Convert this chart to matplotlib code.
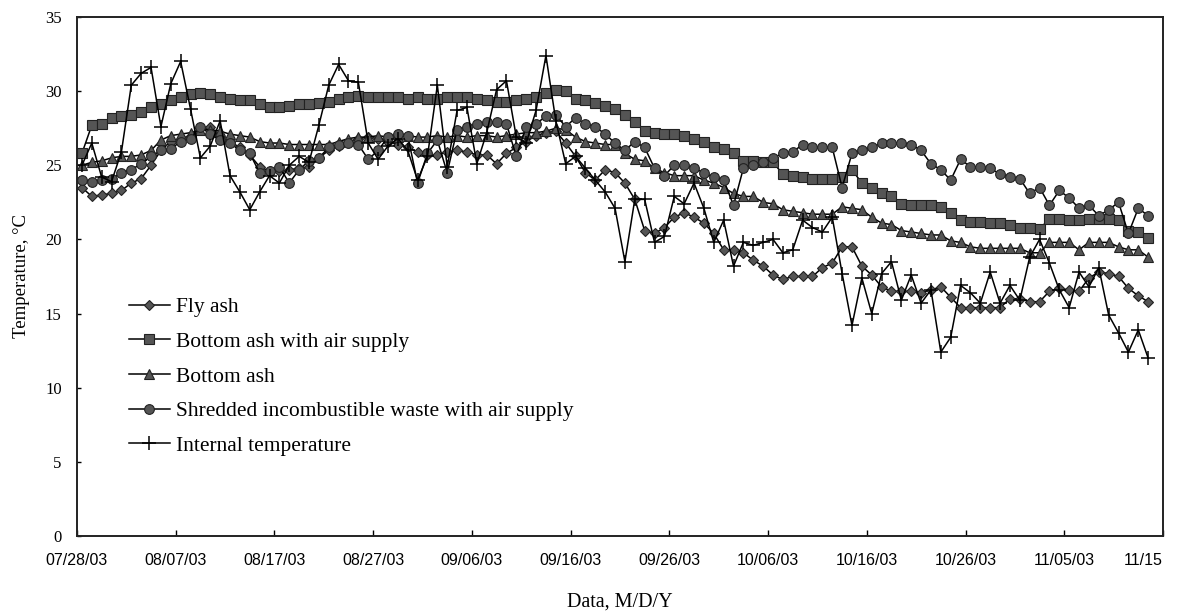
import matplotlib
matplotlib.use("Agg")
import matplotlib.pyplot as plt
import matplotlib.dates as mdates
from matplotlib.transforms import ScaledTranslation
import pandas as pd

# daily readings, one per day from 07/28/03 (taken around noon)
days = pd.date_range("2003-07-28 12:00", periods=109, freq="D")

fly_ash = [
    23.5, 22.9, 23.0, 23.1, 23.3, 23.8, 24.1, 25.0, 26.0, 26.6,
    26.8, 27.0, 27.5, 27.6, 26.9, 26.6, 26.2, 25.7, 24.9, 24.6,
    24.6, 24.7, 24.8, 24.9, 25.5, 26.0, 26.3, 26.6, 26.8, 26.9,
    26.8, 26.6, 26.4, 26.2, 25.9, 25.7, 25.7, 25.9, 26.0, 25.9,
    25.7, 25.7, 25.1, 25.8, 26.2, 26.6, 27.0, 27.2, 27.3, 26.5,
    25.6, 24.5, 24.0, 24.7, 24.5, 23.8, 22.7, 20.6, 20.4, 20.8,
    21.5, 21.8, 21.5, 21.1, 20.4, 19.3, 19.3, 19.1, 18.6, 18.2,
    17.6, 17.3, 17.5, 17.5, 17.5, 18.1, 18.4, 19.5, 19.5, 18.2,
    17.6, 16.8, 16.5, 16.5, 16.5, 16.4, 16.6, 16.8, 16.1, 15.4,
    15.4, 15.4, 15.4, 15.4, 16.0, 16.0, 15.8, 15.8, 16.5, 16.7,
    16.6, 16.5, 17.4, 17.8, 17.7, 17.5, 16.7, 16.2, 15.8,
]

bottom_ash_air = [
    25.8, 27.7, 27.8, 28.2, 28.3, 28.4, 28.6, 28.9, 29.1, 29.4,
    29.6, 29.8, 29.9, 29.8, 29.6, 29.5, 29.4, 29.4, 29.1, 28.9,
    28.9, 29.0, 29.1, 29.1, 29.2, 29.3, 29.5, 29.6, 29.7, 29.6,
    29.6, 29.6, 29.6, 29.5, 29.6, 29.5, 29.5, 29.6, 29.6, 29.6,
    29.5, 29.4, 29.3, 29.3, 29.4, 29.5, 29.6, 29.9, 30.1, 30.0,
    29.5, 29.4, 29.2, 29.0, 28.8, 28.4, 27.9, 27.3, 27.2, 27.1,
    27.1, 27.0, 26.8, 26.6, 26.2, 26.1, 25.8, 25.3, 25.3, 25.2,
    25.2, 24.4, 24.3, 24.2, 24.1, 24.1, 24.1, 24.2, 24.7, 23.8,
    23.5, 23.1, 22.9, 22.4, 22.3, 22.3, 22.3, 22.2, 21.8, 21.3,
    21.2, 21.2, 21.1, 21.1, 21.0, 20.8, 20.8, 20.7, 21.4, 21.4,
    21.3, 21.3, 21.4, 21.4, 21.4, 21.3, 20.6, 20.5, 20.1,
]

bottom_ash = [
    25.0, 25.2, 25.3, 25.5, 25.6, 25.6, 25.7, 26.0, 26.7, 27.0,
    27.1, 27.2, 27.4, 27.4, 27.3, 27.1, 27.0, 26.9, 26.6, 26.5,
    26.5, 26.4, 26.4, 26.4, 26.4, 26.4, 26.6, 26.8, 26.9, 26.9,
    27.0, 26.9, 26.9, 27.0, 26.9, 26.9, 27.0, 26.9, 27.0, 26.9,
    27.0, 27.0, 26.9, 27.0, 27.1, 27.2, 27.2, 27.3, 27.5, 27.4,
    26.9, 26.6, 26.5, 26.4, 26.4, 25.8, 25.4, 25.3, 24.8, 24.5,
    24.3, 24.3, 24.3, 24.0, 23.8, 23.5, 23.1, 22.9, 22.9, 22.5,
    22.4, 22.0, 21.9, 21.8, 21.7, 21.7, 21.7, 22.2, 22.1, 22.0,
    21.5, 21.1, 21.0, 20.6, 20.5, 20.4, 20.3, 20.3, 19.9, 19.8,
    19.5, 19.4, 19.4, 19.4, 19.4, 19.4, 19.1, 19.1, 19.8, 19.8,
    19.8, 19.3, 19.8, 19.8, 19.8, 19.5, 19.3, 19.3, 18.8,
]

shredded_air = [
    24.0, 23.9, 24.0, 24.1, 24.5, 24.7, 25.1, 25.6, 26.0, 26.1,
    26.6, 26.8, 27.6, 27.1, 26.7, 26.5, 26.0, 25.8, 24.5, 24.6,
    24.9, 23.8, 24.7, 25.3, 25.5, 26.2, 26.4, 26.5, 26.4, 25.4,
    26.0, 26.9, 27.1, 27.0, 23.8, 25.8, 26.7, 24.5, 27.4, 27.6,
    27.8, 27.9, 27.9, 27.8, 25.6, 27.6, 27.8, 28.3, 28.4, 27.6,
    28.2, 27.8, 27.6, 27.1, 26.5, 26.0, 26.6, 26.2, 24.8, 24.3,
    25.0, 25.0, 24.8, 24.5, 24.2, 24.0, 22.3, 24.8, 25.0, 25.2,
    25.5, 25.8, 25.9, 26.4, 26.2, 26.2, 26.2, 23.5, 25.8, 26.0,
    26.2, 26.5, 26.5, 26.5, 26.4, 26.0, 25.1, 24.7, 24.0, 25.4,
    24.9, 24.9, 24.8, 24.4, 24.2, 24.1, 23.1, 23.5, 22.3, 23.3,
    22.8, 22.1, 22.3, 21.6, 22.0, 22.5, 20.4, 22.1, 21.6,
]

internal = [
    25.0, 26.5, 24.2, 23.9, 25.9, 30.4, 31.2, 31.6, 27.6, 30.5,
    32.0, 28.8, 25.5, 26.3, 28.0, 24.3, 23.2, 22.0, 23.2, 24.3,
    23.8, 25.0, 25.6, 25.2, 27.7, 30.4, 31.8, 30.7, 30.6, 26.5,
    25.4, 26.3, 26.8, 26.0, 24.0, 25.6, 30.4, 24.9, 28.7, 28.9,
    25.1, 27.2, 30.1, 30.7, 26.9, 26.5, 28.7, 32.4, 28.0, 25.1,
    25.6, 24.8, 24.0, 23.2, 22.1, 18.5, 22.7, 22.7, 19.8, 20.2,
    22.9, 22.4, 23.8, 22.1, 19.8, 21.3, 18.2, 19.8, 19.6, 19.8,
    20.0, 19.1, 19.3, 21.3, 20.8, 20.5, 21.5, 17.7, 14.2, 17.4,
    15.0, 17.7, 18.5, 15.9, 17.6, 15.7, 16.6, 12.4, 13.4, 16.9,
    16.4, 15.7, 17.8, 15.7, 16.9, 15.9, 18.8, 20.0, 18.4, 16.6,
    15.4, 17.8, 16.8, 18.1, 14.9, 13.7, 12.4, 13.9, 12.0,
]

tick_dates = pd.date_range("2003-07-28", "2003-11-15", freq="10D")
tick_labels = ["07/28/03", "08/07/03", "08/17/03", "08/27/03", "09/06/03",
               "09/16/03", "09/26/03", "10/06/03", "10/16/03", "10/26/03",
               "11/05/03", "11/15"]

serif = ["Liberation Serif", "DejaVu Serif"]
face = "#555555"
edge = "#222222"

fig = plt.figure(figsize=(11.79, 6.13), dpi=100)
ax = fig.add_axes([0.0653, 0.1256, 0.9211, 0.8467])

style = dict(color="black", lw=1.1, markerfacecolor=face, markeredgecolor=edge,
             markeredgewidth=0.8)
ax.plot(days, fly_ash, marker="D", ms=5.5, label="Fly ash", **style)
ax.plot(days, bottom_ash_air, marker="s", ms=6.5, label="Bottom ash with air supply", **style)
ax.plot(days, bottom_ash, marker="^", ms=6.5, label="Bottom ash", **style)
ax.plot(days, shredded_air, marker="o", ms=7,
        label="Shredded incombustible waste with air supply", **style)
ax.plot(days, internal, color="black", lw=1.1, marker="+", ms=10,
        markeredgewidth=1.1, label="Internal temperature")

ax.set_xlim(pd.Timestamp("2003-07-28"), pd.Timestamp("2003-11-15"))
ax.set_ylim(0, 35)
ax.set_yticks(range(0, 36, 5))
ax.set_xticks(mdates.date2num(tick_dates))
ax.set_xticklabels(tick_labels, fontfamily=["Liberation Sans", "DejaVu Sans"],
                   fontsize=11.5)
for lab in ax.get_yticklabels():
    lab.set_fontfamily(serif)
    lab.set_fontsize(12)

# the last date label is cut short and sits left of the corner
last = ax.get_xticklabels()[-1]
last.set_ha("right")
last.set_transform(last.get_transform() + ScaledTranslation(0.07, 0, fig.dpi_scale_trans))

ax.tick_params(axis="x", direction="in", length=4, width=1, pad=12)
ax.tick_params(axis="y", direction="in", length=3, width=1, pad=11)
for sp in ax.spines.values():
    sp.set_linewidth(1.4)
    sp.set_color("#222222")

ax.set_ylabel("Temperature, \u00b0C", fontfamily=serif, fontsize=13.5, labelpad=11)
ax.set_xlabel("Data, M/D/Y", fontfamily=serif, fontsize=14.5, labelpad=18)

leg = ax.legend(loc="upper left", bbox_to_anchor=(0.04, 0.477), frameon=False,
                prop={"family": serif, "size": 15.5}, handlelength=1.9,
                handletextpad=0.3, labelspacing=0.68, borderaxespad=0)

fig.savefig("out.png", dpi=100)
